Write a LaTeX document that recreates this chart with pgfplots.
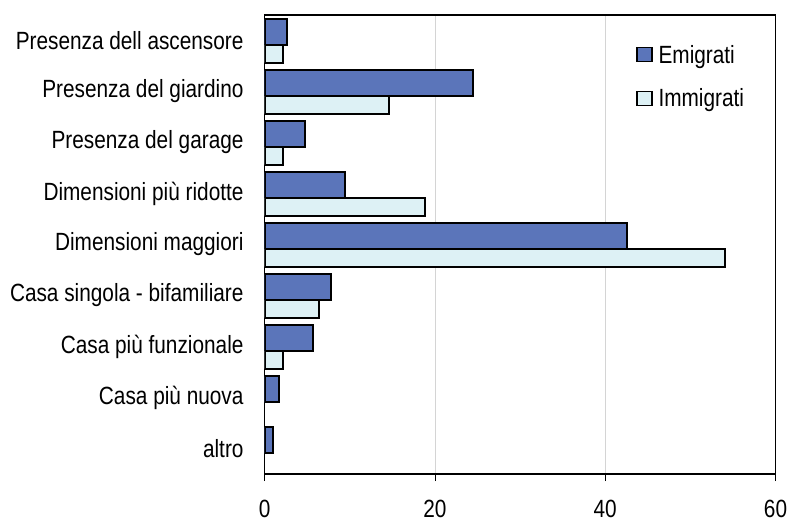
\documentclass[border=0pt]{standalone}
\usepackage{fontspec}
\setmainfont[FakeStretch=0.835]{Liberation Sans}
\usepackage{pgfplots}
\pgfplotsset{compat=1.18}
\definecolor{emi}{RGB}{91,117,186}
\definecolor{imm}{RGB}{221,241,245}
\definecolor{gridc}{RGB}{212,212,212}
\begin{document}
\begin{tikzpicture}
\useasboundingbox (0,0) rectangle (789bp,523bp);
\begin{axis}[
  at={(264.7bp,49bp)}, anchor=south west,
  scale only axis,
  width=510.8bp, height=459bp,
  xbar,
  xmin=0, xmax=60,
  ymin=-0.5, ymax=8.5,
  y dir=reverse,
  xtick={0,20,40,60},
  ytick={0,...,8},
  yticklabels={Presenza dell ascensore,Presenza del giardino,Presenza del garage,Dimensioni più ridotte,Dimensioni maggiori,Casa singola - bifamiliare,Casa più funzionale,Casa più nuova,altro},
  /pgf/number format/assume math mode=true,
  tick label style={font=\fontsize{25}{29}\selectfont},
  tick align=outside,
  major tick length=7bp,
  xtick pos=bottom,
  ytick style={draw=none},
  xtick style={black, line width=0.8bp},
  yticklabel style={anchor=east, inner sep=0pt, xshift=-14bp},
  xticklabel style={anchor=north, inner sep=0pt, yshift=-19bp},
  xmajorgrids,
  grid style={gridc, line width=0.8bp},
  axis line style={black, line width=1.4bp},
  legend style={draw=none, fill=none, at={(0.727,0.935)}, anchor=north west,
    font=\fontsize{25}{29}\selectfont, row sep=24bp, inner sep=0pt,
    nodes={inner sep=0pt, anchor=west},
    /tikz/every odd column/.append style={column sep=6bp}},
  legend cell align=left,
  legend image code/.code={\draw[#1, line width=1.3bp, xbar=0pt, bar shift=0pt] (0bp,-7bp) rectangle (15bp,7bp);},
]
\addplot[fill=emi, draw=black, line width=1.8bp, bar width=0.51, bar shift=-0.16]
  coordinates {(2.6,0) (24.5,1) (4.7,2) (9.45,3) (42.6,4) (7.8,5) (5.7,6) (1.7,7) (0.95,8)};
\addlegendentry{Emigrati}
\addplot[fill=imm, draw=black, line width=1.8bp, bar width=0.35, bar shift=0.26]
  coordinates {(2.15,0) (14.6,1) (2.15,2) (18.8,3) (54.1,4) (6.4,5) (2.15,6)};
\addlegendentry{Immigrati}
\end{axis}
\end{tikzpicture}
\end{document}
